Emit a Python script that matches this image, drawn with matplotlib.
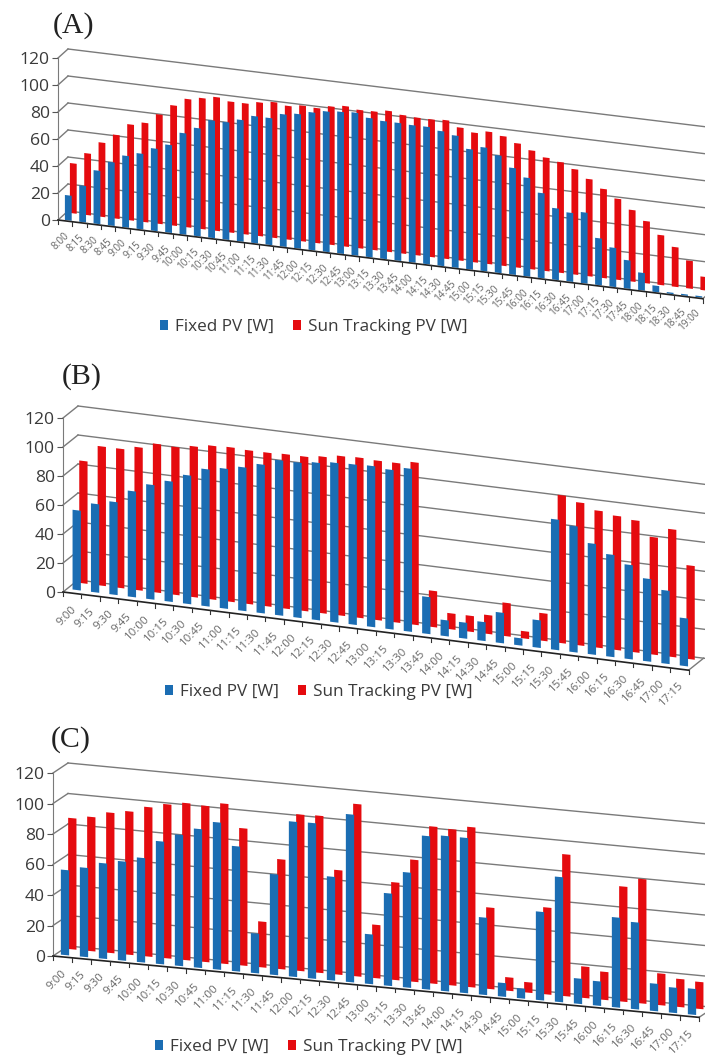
import matplotlib
matplotlib.use("Agg")
import matplotlib.pyplot as plt
from matplotlib.transforms import Affine2D

times_a = ["8:00","8:15","8:30","8:45","9:00","9:15","9:30","9:45","10:00","10:15","10:30","10:45","11:00","11:15","11:30","11:45","12:00","12:15","12:30","12:45","13:00","13:15","13:30","13:45","14:00","14:15","14:30","14:45","15:00","15:15","15:30","15:45","16:00","16:15","16:30","16:45","17:00","17:15","17:30","17:45","18:00","18:15","18:30","18:45","19:00"]
fixed_a = [18.5,27,39.5,47,53,56,61,65,75,80,87,87,90,94,94,98,99.5,102,104,105,105.7,103,102,102,101.6,101.7,99.8,97.8,89,91.6,87,79,73,63,53,51,52.5,34.7,29,21,13,4.7,1,1,1]
track_a = [37,45.7,55,62,71,73.5,81,89,95,97,99,97,97,99,100.5,99,100.5,100,102.5,104,102.5,102.7,104.4,102.6,102,102,102.7,98.5,96,98,96,92,88,84,82,78,72,66,60,53,46,37,29.4,20.6,10]

times_b = ["9:00","9:15","9:30","9:45","10:00","10:15","10:30","10:45","11:00","11:15","11:30","11:45","12:00","12:15","12:30","12:45","13:00","13:15","13:30","13:45","14:00","14:15","14:30","14:45","15:00","15:15","15:30","15:45","16:00","16:15","16:30","16:45","17:00","17:15"]
fixed_b = [55,61,64,73,79,83,88.7,94.5,96.5,99,102.5,107,107,108.5,110,110.5,111,110,112.4,25.5,11,11,13,21,5,19,90,87,76.5,70.5,65,57,50.5,33]
track_b = [84.4,96,96,98.6,102.5,102,104,106,106.5,106,106,106.5,106.5,108,110,110.5,110,110,112,25,11,11,13,23,5,19,102,98.5,94.5,92.5,91,81,88,64.6]

times_c = list(times_b)
fixed_c = [55.8,58.5,62.6,65,68.5,80.5,86,91,96.5,82,26,66,101.7,102,68,110,32.6,60.6,75.5,100.6,101.8,101.8,50.7,9,6.5,58,82,16.6,16,59,57,18,16.6,17]
track_c = [86,88,92,94,98,101,103,102.4,105,90,30,72,102.6,103,68.5,113,35,64,80,103,102.4,105,53.4,8.8,6.8,57,93,20.6,18.4,75.5,81.6,20.8,18.4,17.7]

y_ticks = [0, 20, 40, 60, 80, 100, 120]
series_names = ["Fixed PV [W]", "Sun Tracking PV [W]"]
BLUE, RED = "#1b6db3", "#e50b0f"
FW, FH = 705, 1057
fig = plt.figure(figsize=(FW/100, FH/100), dpi=100, facecolor="white")
plt.rcParams["font.family"] = ["Open Sans", "DejaVu Sans"]

def panel(letter, lab_xy, times, fixed, track, box, ax0, y0, scale, dx, slope,
          blue_px, red_off, width, blue_raise, red_raise, depth, leg_xy, lab_fs, lab_drop):
    top, bottom = box
    ax = fig.add_axes([0, 1-bottom/FH, 1, (bottom-top)/FH])
    ax.set_autoscale_on(False)
    ax.patch.set_alpha(0)
    ax.set_xlim(-ax0/dx, (FW-ax0)/dx)
    ax.set_ylim((y0-bottom)/scale, (y0-top)/scale)
    k = slope*dx/scale
    T = Affine2D.from_values(1, -k, 0, 1, 0, 0) + ax.transData
    n = len(times)
    xb = (blue_px-ax0)/dx
    xr = xb + red_off/dx
    xs = list(range(n))
    rb = ax.bar([i+xr for i in xs], track, width/dx, bottom=red_raise/scale, color=RED,
                transform=T, zorder=3, label=series_names[1])
    bb = ax.bar([i+xb for i in xs], fixed, width/dx, bottom=blue_raise/scale, color=BLUE,
                transform=T, zorder=4, label=series_names[0])
    dxd, dyd = depth
    xbk = dxd/dx
    dv = dyd/scale
    gc = "#7a7a7a"
    xend = (FW-ax0)/dx + 1
    for v in y_ticks:
        ax.plot([0, xbk], [v, v+dv+k*xbk], color=gc, lw=1.0, transform=T, zorder=1)
        ax.plot([xbk, xend], [v+dv+k*xbk]*2, color=gc, lw=1.0, transform=T, zorder=1)
    ax.plot([0, n], [0, 0], color="#222222", lw=1.2, transform=T, zorder=5)
    ax.plot([n, n+xbk], [0, dv+k*xbk], color=gc, lw=1.0, transform=T, zorder=2)
    for i in range(n+1):
        ax.plot([i, i], [0, -4/scale], color="#333333", lw=0.8, transform=T, zorder=5)
    for i, t in enumerate(times):
        ax.text(i+0.42, -lab_drop/scale, t, rotation=45, rotation_mode="anchor", ha="right", va="top",
                fontsize=lab_fs, color="#666666", transform=T)
    for s in ("top", "right", "bottom"):
        ax.spines[s].set_visible(False)
    ax.spines["left"].set_position(("data", 0))
    ax.spines["left"].set_bounds(0, 120)
    ax.spines["left"].set_color("#7a7a7a")
    ax.set_xticks([])
    ax.set_yticks(y_ticks)
    ax.tick_params(axis="y", length=4, color="#555555", labelsize=12.6, labelcolor="#3a3a3a", pad=2)
    ax.legend(handles=[bb, rb], loc="center", ncol=2, frameon=False, fontsize=12.3,
              bbox_to_anchor=(leg_xy[0]/FW, 1-leg_xy[1]/FH), bbox_transform=fig.transFigure,
              handlelength=0.45, handleheight=0.45, handletextpad=0.45, columnspacing=1.1,
              labelcolor="#3a3a3a")
    fig.text(lab_xy[0]/FW, 1-lab_xy[1]/FH, letter, family="Liberation Serif", fontsize=21.5,
             color="#222222", ha="left", va="center")

panel("(A)", (53, 26), times_a, fixed_a, track_a, (0, 350), 58, 220, 1.35, 14.33, 0.122,
      68.3, 5, 6.8, 0.9, 8.5, (10, 9), (314, 327), 7.2, 10)
panel("(B)", (62, 377), times_b, fixed_b, track_b, (350, 710), 63, 592, 1.45, 18.4, 0.125,
      76.7, 6.7, 8.3, 3.7, 11.2, (15, 12), (319, 692), 8.2, 11)
panel("(C)", (51, 740), times_c, fixed_c, track_c, (710, 1057), 53, 956, 1.525, 19.0, 0.095,
      65, 7.3, 8.3, 2.1, 8.5, (15, 10), (309, 1047), 8.2, 11)

fig.savefig("out.png", dpi=100)
